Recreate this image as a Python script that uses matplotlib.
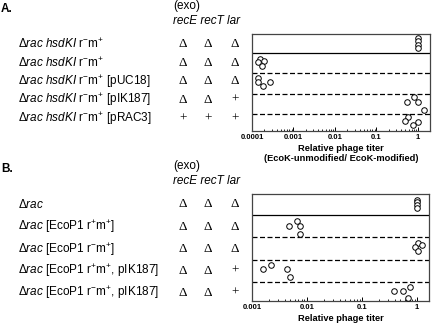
import matplotlib
matplotlib.use("Agg")
import matplotlib.pyplot as plt
from matplotlib.ticker import FixedLocator, FuncFormatter, LogLocator, NullFormatter

plt.rcParams['font.family'] = ['Liberation Sans', 'DejaVu Sans']
plt.rcParams['mathtext.fontset'] = 'custom'
plt.rcParams['mathtext.rm'] = 'Liberation Sans'
plt.rcParams['mathtext.it'] = 'Liberation Sans:italic'
plt.rcParams['mathtext.bf'] = 'Liberation Sans:bold'

# ---- data (rows listed top to bottom) ----
a_labels = [r'Δ$\mathit{rac}$ $\mathit{hsdKI}$ r$^{-}$m$^{+}$',
            r'Δ$\mathit{rac}$ $\mathit{hsdKI}$ r$^{-}$m$^{+}$',
            r'Δ$\mathit{rac}$ $\mathit{hsdKI}$ r$^{-}$m$^{+}$ [pUC18]',
            r'Δ$\mathit{rac}$ $\mathit{hsdKI}$ r$^{-}$m$^{+}$ [pIK187]',
            r'Δ$\mathit{rac}$ $\mathit{hsdKI}$ r$^{-}$m$^{+}$ [pRAC3]']
a_recE = ['Δ', 'Δ', 'Δ', 'Δ', '+']
a_recT = ['Δ', 'Δ', 'Δ', 'Δ', '+']
a_lar = ['Δ', 'Δ', 'Δ', '+', '+']
a_titer = [[1.0, 1.0, 1.0, 1.0],
           [1.52e-4, 1.91e-4, 1.38e-4, 1.74e-4],
           [1.42e-4, 1.41e-4, 1.87e-4, 2.79e-4],
           [0.535, 0.824, 1.02, 1.38],
           [0.59, 0.50, 0.985, 0.77]]
# vertical scatter of each point inside its row
a_offset = [[0.24, 0.08, -0.09, -0.25],
            [0.19, 0.12, 0.04, -0.14],
            [0.25, 0.06, -0.14, 0.06],
            [0.11, 0.32, 0.09, -0.33],
            [0.37, 0.17, 0.12, -0.03]]

b_labels = [r'Δ$\mathit{rac}$',
            r'Δ$\mathit{rac}$ [EcoP1 r$^{+}$m$^{+}$]',
            r'Δ$\mathit{rac}$ [EcoP1 r$^{-}$m$^{+}$]',
            r'Δ$\mathit{rac}$ [EcoP1 r$^{+}$m$^{+}$, pIK187]',
            r'Δ$\mathit{rac}$ [EcoP1 r$^{-}$m$^{+}$, pIK187]']
b_recE = ['Δ', 'Δ', 'Δ', 'Δ', 'Δ']
b_recT = ['Δ', 'Δ', 'Δ', 'Δ', 'Δ']
b_lar = ['Δ', 'Δ', 'Δ', '+', '+']
b_titer = [[1.0, 1.0, 1.0, 1.0],
           [0.00477, 0.0065, 0.00746, 0.00746],
           [1.02, 0.93, 1.22, 1.06],
           [0.0016, 0.00217, 0.00437, 0.00484],
           [0.382, 0.564, 0.736, 0.686]]
b_offset = [[0.19, 0.06, -0.05, -0.19],
            [0.02, 0.22, 0.02, -0.33],
            [0.24, 0.08, 0.15, -0.11],
            [0.10, 0.27, 0.10, -0.27],
            [0.12, 0.12, 0.30, -0.22]]

a_ticks = [0.0001, 0.001, 0.01, 0.1, 1]
b_ticks = [0.001, 0.01, 0.1, 1]

W, H = 432, 327
fig = plt.figure(figsize=(W / 100, H / 100), dpi=100)


def fx(px):
    return px / W


def fy(py):
    return 1 - py / H


def panel(ax, titer, offset, ticks, xmax, xlabel):
    nrows = len(titer)
    for i, (xs, offs) in enumerate(zip(titer, offset)):
        row = nrows - i
        ax.plot(xs, [row + o for o in offs], 'o', ls='none', ms=4, mfc='white',
                mec='black', mew=0.7, clip_on=False, zorder=3)
    ax.axhline(nrows - 0.5, color='black', lw=0.9)
    for k in range(1, nrows - 1):
        ax.axhline(nrows - 0.5 - k, color='black', lw=0.9, ls=(0, (4, 2)))
    ax.set_xscale('log')
    ax.set_xlim(ticks[0], xmax)
    ax.set_ylim(0.66, nrows + 0.46)
    ax.set_yticks([])
    ax.xaxis.set_major_locator(FixedLocator(ticks))
    ax.xaxis.set_major_formatter(FuncFormatter(lambda v, p: '%g' % v))
    ax.xaxis.set_minor_locator(LogLocator(base=10, subs=range(2, 10)))
    ax.xaxis.set_minor_formatter(NullFormatter())
    ax.tick_params(axis='x', which='major', direction='in', length=3, width=0.7,
                   pad=2, labelsize=5.5)
    ax.tick_params(axis='x', which='minor', direction='in', length=1.8, width=0.6)
    for lab in ax.get_xticklabels():
        lab.set_fontweight('bold')
    for s in ax.spines.values():
        s.set_color('#444444')
        s.set_linewidth(0.9)
    ax.set_xlabel(xlabel, fontsize=6.7, fontweight='bold', labelpad=2, linespacing=1.15)


def table(letter, labels, recE, recT, lar, top, rows_y):
    fig.text(fx(1), fy(top + 3), letter, fontsize=8.5, fontweight='bold', va='center')
    fig.text(fx(173), fy(top), '(exo)', fontsize=8.5, va='center')
    fig.text(fx(173), fy(top + 15), 'recE recT lar', fontsize=8.5, style='italic', va='center')
    for lab, e, t, l, y in zip(labels, recE, recT, lar, rows_y):
        fig.text(fx(18), fy(y), lab, fontsize=8.5, va='center')
        for sym, cx in zip((e, t, l), (183, 208, 235)):
            fig.text(fx(cx), fy(y), sym, fontsize=9.5, ha='center', va='center',
                     family='Liberation Serif')


# panel A
axA = fig.add_axes([fx(252), fy(131), fx(430) - fx(252), fy(33.5) - fy(131)])
panel(axA, a_titer, a_offset, a_ticks, 1.95,
      'Relative phage titer\n(EcoK-unmodified/ EcoK-modified)')
table('A.', a_labels, a_recE, a_recT, a_lar, 6, [44, 63, 81.5, 100, 119])

# panel B
axB = fig.add_axes([fx(252), fy(301), fx(429) - fx(252), fy(193.5) - fy(301)])
panel(axB, b_titer, b_offset, b_ticks, 1.65, 'Relative phage titer')
table('B.', b_labels, b_recE, b_recT, b_lar, 166, [204.3, 226.7, 249.3, 271, 292.7])

fig.savefig('out.png', dpi=100)
